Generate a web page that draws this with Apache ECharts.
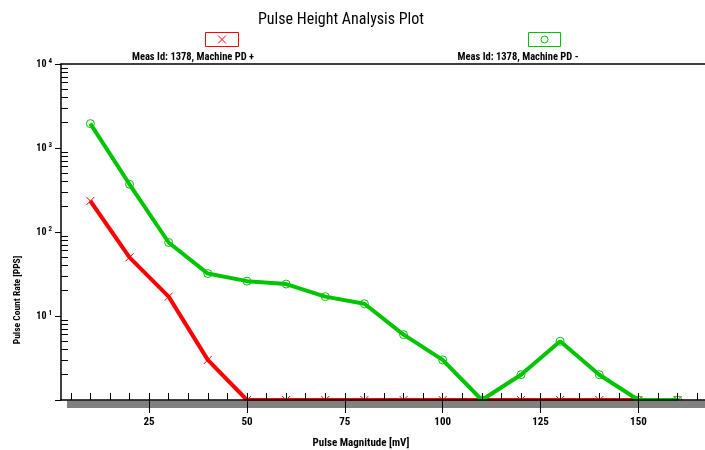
<!DOCTYPE html>
<html>
<head>
<meta charset="utf-8">
<script src="https://cdn.jsdelivr.net/npm/echarts@6/dist/echarts.min.js"></script>
<style>html,body{margin:0;padding:0;background:#fff;}#c{width:705px;height:450px;}</style>
</head>
<body>
<div id="c"></div>
<script>
// ---- data ----
var xValues = [10, 20, 30, 40, 50, 60, 70, 80, 90, 100, 110, 120, 130, 140, 150, 160];
var pdPlus  = [234, 50, 17, 3, 1, 1, 1, 1, 1, 1, 1, 1, 1, 1, 1, 1];
var pdMinus = [1950, 370, 75, 32, 26, 24, 17, 14, 6, 3, 1, 2, 5, 2, 1, 1];
var xTickValues = [25, 50, 75, 100, 125, 150];
var xMinorTicks = [5, 10, 15, 20, 25, 30, 35, 40, 45, 50, 55, 60, 65, 70, 75, 80, 85, 90, 95, 100, 105, 110, 115, 120, 125, 130, 135, 140, 145, 150, 155, 160, 165];
var yTickValues = [10, 100, 1000, 10000];
var yMinorTicks = [2, 3, 4, 5, 6, 7, 8, 9, 20, 30, 40, 50, 60, 70, 80, 90, 200, 300, 400, 500, 600, 700, 800, 900, 2000, 3000, 4000, 5000, 6000, 7000, 8000, 9000];
var seriesNames = ['Meas Id: 1378, Machine PD +', 'Meas Id: 1378, Machine PD -'];
var titleText = 'Pulse Height Analysis Plot';
var xTitle = 'Pulse Magnitude [mV]';
var yTitle = 'Pulse Count Rate [PPS]';

var NARROW = "'Roboto Condensed', 'DejaVu Sans Condensed', sans-serif";
var RED = '#ff0000', GREEN = '#00c400';

function zip(xs, ys) { return xs.map(function (x, i) { return [x, ys[i]]; }); }

var chart = echarts.init(document.getElementById('c'), null, {renderer: 'canvas'});
var xMin = 2.5, xMax = 167;
chart.setOption({
  animation: false,
  backgroundColor: '#fff',
  title: {
    text: titleText, left: 336, top: 7, textAlign: 'center',
    textStyle: {fontFamily: NARROW, fontSize: 16, fontWeight: 'normal', color: '#000'}
  },
  grid: {left: 61, right: 0, top: 64, bottom: 50, containLabel: false, outerBoundsMode: 'none'},
  xAxis: [
    {
      type: 'value', min: xMin, max: xMax, position: 'bottom', z: 10,
      axisLine: {lineStyle: {color: '#000', width: 1.5}},
      axisTick: {customValues: xTickValues, length: 13, lineStyle: {color: '#000', width: 1}},
      axisLabel: {customValues: xTickValues, margin: 17, color: '#000', fontFamily: NARROW, fontWeight: 'bold', fontSize: 11},
      splitLine: {show: false},
      name: xTitle, nameLocation: 'middle', nameGap: 38,
      nameTextStyle: {fontFamily: NARROW, fontWeight: 'bold', fontSize: 11, color: '#000', padding: [0, 44, 0, 0]}
    },
    {
      type: 'value', min: xMin, max: xMax, position: 'bottom', offset: 0, z: 10,
      axisLine: {show: false},
      axisTick: {customValues: xMinorTicks, inside: true, length: 7, lineStyle: {color: '#000', width: 1}},
      axisLabel: {show: false},
      splitLine: {show: false}
    },
    {
      type: 'value', min: xMin, max: xMax, position: 'top',
      axisLine: {lineStyle: {color: '#000', width: 1.5}},
      axisTick: {show: false}, axisLabel: {show: false}, splitLine: {show: false}
    }
  ],
  yAxis: [
    {
      type: 'log', logBase: 10, min: 1, max: 10000, position: 'left',
      axisLine: {show: true, lineStyle: {color: '#000', width: 1.5}},
      axisTick: {show: true, length: 6, lineStyle: {color: '#000', width: 1}},
      axisLabel: {
        customValues: yTickValues, margin: 9,
        formatter: function (v) { return '{b|10}{s|' + Math.round(Math.log10(v)) + '}'; },
        rich: {
          b: {fontFamily: NARROW, fontWeight: 'bold', fontSize: 10, color: '#000'},
          s: {fontFamily: NARROW, fontWeight: 'bold', fontSize: 7, color: '#000', padding: [0, 0, 6, 2]}
        }
      },
      splitLine: {show: false}
    },
    {
      type: 'log', logBase: 10, min: 1, max: 10000, position: 'left', offset: 0,
      axisLine: {show: false},
      axisTick: {show: true, customValues: yMinorTicks, inside: true, length: 7, lineStyle: {color: '#000', width: 1}},
      axisLabel: {show: false},
      splitLine: {show: false}
    }
  ],
  graphic: [
    {type: 'rect', z: 5, shape: {x: 67, y: 400.5, width: 640, height: 7.5}, style: {fill: '#808080'}},
    {type: 'text', x: 18, y: 300, rotation: Math.PI / 2,
      style: {text: yTitle, align: 'center', verticalAlign: 'middle', font: 'bold 9.5px ' + NARROW, fill: '#000'}},
    // legend boxes
    {type: 'rect', shape: {x: 205.5, y: 32.5, width: 33, height: 14}, style: {fill: '#fff', stroke: RED, lineWidth: 1}},
    {type: 'line', shape: {x1: 218, y1: 35.5, x2: 226, y2: 43.5}, style: {stroke: RED, lineWidth: 1}},
    {type: 'line', shape: {x1: 226, y1: 35.5, x2: 218, y2: 43.5}, style: {stroke: RED, lineWidth: 1}},
    {type: 'text', x: 193, y: 57, style: {text: seriesNames[0], align: 'center', verticalAlign: 'middle', font: 'bold 10.5px ' + NARROW, fill: '#000'}},
    {type: 'rect', shape: {x: 528.5, y: 32.5, width: 32, height: 14}, style: {fill: '#fff', stroke: GREEN, lineWidth: 1}},
    {type: 'circle', shape: {cx: 544.5, cy: 39.5, r: 3.5}, style: {fill: 'none', stroke: GREEN, lineWidth: 1}},
    {type: 'text', x: 518, y: 57, style: {text: seriesNames[1], align: 'center', verticalAlign: 'middle', font: 'bold 10.5px ' + NARROW, fill: '#000'}}
  ],
  series: [
    {
      name: seriesNames[1], type: 'line', xAxisIndex: 0, yAxisIndex: 0,
      data: zip(xValues, pdMinus), clip: true, z: 3,
      lineStyle: {color: GREEN, width: 4},
      symbol: 'circle', symbolSize: 8, showAllSymbol: true,
      itemStyle: {color: 'rgba(0,0,0,0)', borderColor: GREEN, borderWidth: 1}
    },
    {
      name: seriesNames[0], type: 'line', xAxisIndex: 0, yAxisIndex: 0,
      data: zip(xValues, pdPlus), clip: true, z: 2,
      lineStyle: {color: RED, width: 4},
      symbol: 'path://M0,0L10,10M10,0L0,10', symbolSize: 8, showAllSymbol: true,
      itemStyle: {color: RED, borderColor: RED, borderWidth: 1}
    }
  ]
});
</script>
</body>
</html>
